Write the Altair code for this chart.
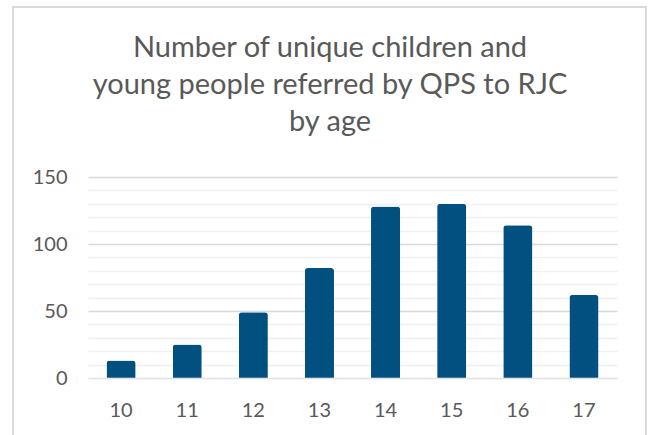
import altair as alt
import pandas as pd

ages = ["10", "11", "12", "13", "14", "15", "16", "17"]
counts = [13, 25, 49, 82, 128, 130, 114, 62]
title_lines = ["Number of unique children and", "young people referred by QPS to RJC", "by age"]
y_ticks = list(range(0, 151, 10))

df = pd.DataFrame({"age": ages, "count": counts})

W, H = 529, 201
FONT = "Lato"
TXT = "#595959"

base = alt.Chart(df)
one = base.transform_filter("datum.age == '10'")

frame = one.mark_rect(fill=None, stroke="#d9d9d9", strokeWidth=2).encode(
    x=alt.value(-75), x2=alt.value(558), y=alt.value(-170), y2=alt.value(265)
)

title = one.mark_text(
    text=title_lines, font=FONT, fontSize=29, color=TXT, lineHeight=37,
    align="center", baseline="alphabetic"
).encode(x=alt.value(242), y=alt.value(-120))

y_axis = alt.Axis(title=None, values=y_ticks, ticks=False, domain=False,
                  labelFont=FONT, labelFontSize=20, labelColor=TXT,
                  labelPadding=21, labelOverlap=False,
                  labelExpr="datum.value % 50 === 0 ? datum.label : ''",
                  gridColor={"condition": {"test": "datum.value % 50 === 0", "value": "#d9d9d9"},
                             "value": "#f0f0f0"},
                  gridWidth=1.5)
y_scale = alt.Scale(domain=[0, 150], nice=False)

bars = base.mark_bar(color="#02507f", cornerRadiusTopLeft=3, cornerRadiusTopRight=3).encode(
    x=alt.X("age:N", sort=ages,
            scale=alt.Scale(paddingInner=0.56, paddingOuter=0.28),
            axis=alt.Axis(title=None, labelAngle=0, ticks=False, domain=False,
                          labelFont=FONT, labelFontSize=20, labelColor=TXT,
                          labelPadding=22, grid=False)),
    y=alt.Y("count:Q", scale=y_scale, axis=y_axis),
    y2=alt.value(H + 2),
)

zero = one.transform_calculate(zero="0").mark_rule(color="#ffffff", strokeWidth=1, opacity=0.5).encode(
    y=alt.Y("zero:Q", scale=y_scale, axis=y_axis)
)

chart = alt.layer(frame, title, bars, zero).properties(
    width=W, height=H,
    background="white",
    autosize=alt.AutoSizeParams(type="none"),
    padding={"left": 88, "top": 177, "right": 32, "bottom": 57},
).configure_view(strokeWidth=0)

chart.save("out.html", embed_options={"renderer": "svg", "actions": False})
